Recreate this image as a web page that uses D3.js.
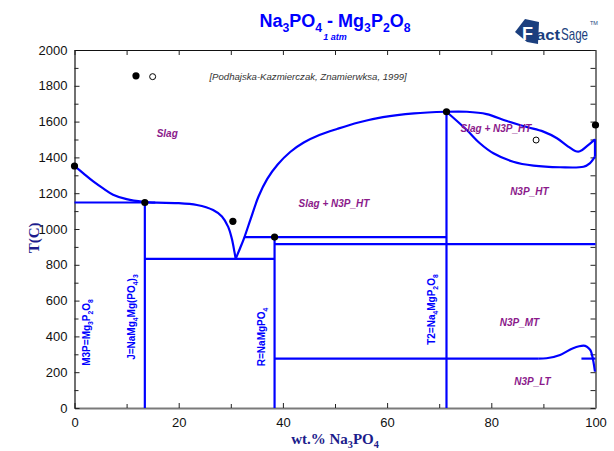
<!DOCTYPE html>
<html><head><meta charset="utf-8">
<script src="https://cdn.jsdelivr.net/npm/d3@7"></script>
<style>body{margin:0;background:#fff}</style>
</head><body>
<svg id="chart" width="614" height="451"></svg>
<script>
// Na3PO4 - Mg3P2O8 phase diagram: composition in wt.% Na3PO4, temperature in °C

// liquidus from the Mg3P2O8 side down to the eutectic
const liquidusLeft = [[0,1352],[1.7,1311],[3.6,1266],[5.5,1227],[7.4,1192],[10,1167],[13.2,1152],[15.8,1147],[19.7,1145],[23.5,1134],[26.6,1106],[28.3,1070],[29.5,1012],[30.2,945],[30.7,872],[30.94,833]];
// liquidus from the eutectic up to the Na4MgP2O8 congruent point
const liquidusRight = [[30.94,833],[31.6,880],[32.5,945],[33.8,1055],[35.3,1180],[37,1280],[39,1360],[41.4,1430],[44,1483],[47,1525],[50.5,1560],[54.5,1595],[59.2,1625],[65.2,1646],[71.4,1655]];
// liquidus and solidus bounding Slag + N3P_HT on the Na3PO4 side
const liquidusNa = [[71.4,1655],[75.3,1655],[79.1,1642],[83,1603],[86.8,1570],[90,1544],[92.6,1507],[94.5,1466],[96.1,1436],[97,1434],[98.3,1462],[99.9,1501]];
const solidusNa = [[71.4,1655],[75.3,1553],[77.8,1479],[80.4,1423],[84.2,1376],[88.1,1354],[93.2,1345],[97.7,1348],[98.9,1367],[99.9,1404]];
const solidusEdge = [[99.9,1404],[99.9,1501]];
// N3P_MT / N3P_LT boundary near pure Na3PO4
const lowTransition = [[89,276],[90.6,278],[93.2,296],[95.7,334],[97.7,348],[99,324],[99.6,259],[99.9,203]];

// isotherms: [from wt.%, to wt.%, T]
const isotherms = [[0,15.5,1148],[13.5,38.4,833],[32.7,71.4,955],[38.4,100,915],[38.4,89,276],[97.3,100,276]];
// stoichiometric compounds: [wt.% Na3PO4, upper temperature]
const compounds = [[13.5,1148],[38.4,955],[71.4,1655]];

// experimental points
const measuredFilled = [[0,1352],[13.5,1148],[38.4,955],[71.4,1655],[100,1581],[30.4,1043],[11.8,1856]];
const measuredOpen = [[88.6,1497],[15,1851]];

// region labels: [text, wt.%, T]
const regionLabels = [["Slag",17.8,1536],["Slag + N3P_HT",49.8,1145],["Slag + N3P_HT",80.9,1559],["N3P_HT",87.3,1207],["N3P_MT",85.4,477],["N3P_LT",87.9,147]];
// compound labels (subscripts marked with _): [text, wt.%, T]
const compoundLabels = [["M3P=Mg_3P_2O_8",2.3,422],["J=NaMg_4Mg(PO_4)_3",11.0,508],["R=NaMgPO_4",35.9,397],["T2=Na_4MgP_2O_8",68.6,550]];

const xTicks = [0,20,40,60,80,100];
const xMinor = [10,30,50,70,90];
const yTicks = [0,200,400,600,800,1000,1200,1400,1600,1800,2000];
const yMinor = [100,300,500,700,900,1100,1300,1500,1700,1900];

const svg = d3.select("#chart");
const plotL = 74.5, plotR = 595.5, plotT = 50, plotB = 408;
const x = d3.scaleLinear().domain([0,100]).range([plotL,plotR]);
const y = d3.scaleLinear().domain([0,2000]).range([plotB,plotT]);

const blue = "#0000ff", purple = "#8b1a8b", navy = "#1c1c8c";
const fmt = d3.format("d");

// axes
function styleAxis(g, domainColor, domainWidth){
  g.select(".domain").attr("stroke",domainColor).attr("stroke-width",domainWidth);
  g.selectAll(".tick line").attr("stroke","#222").attr("stroke-width",1);
  g.selectAll(".tick text").attr("font-family","Liberation Sans, Arial, sans-serif").attr("font-size",13).attr("fill","#111");
}
const gx = svg.append("g").attr("transform",`translate(0,${plotB})`)
  .call(d3.axisBottom(x).tickValues(xTicks).tickFormat(fmt).tickSizeInner(-5).tickSizeOuter(0).tickPadding(10));
styleAxis(gx,"#7a7a7a",2);
svg.append("g").attr("transform",`translate(0,${plotB})`)
  .call(d3.axisBottom(x).tickValues(xMinor).tickSizeInner(-4).tickSizeOuter(0).tickFormat(""))
  .call(g=>{g.select(".domain").remove(); g.selectAll("line").attr("stroke","#222");});
const gy = svg.append("g").attr("transform",`translate(${plotL},0)`)
  .call(d3.axisLeft(y).tickValues(yTicks).tickFormat(fmt).tickSizeInner(-5).tickSizeOuter(0).tickPadding(7));
styleAxis(gy,"#111",1.2);
svg.append("g").attr("transform",`translate(${plotL},0)`)
  .call(d3.axisLeft(y).tickValues(yMinor).tickSizeInner(-4).tickSizeOuter(0).tickFormat(""))
  .call(g=>{g.select(".domain").remove(); g.selectAll("line").attr("stroke","#222");});
const gt = svg.append("g").attr("transform",`translate(0,${plotT})`)
  .call(d3.axisTop(x).tickValues(xTicks.concat(xMinor)).tickSizeInner(-5).tickSizeOuter(0).tickFormat(""));
styleAxis(gt,"#111",1.2);
const gr = svg.append("g").attr("transform",`translate(${plotR},0)`)
  .call(d3.axisRight(y).tickValues(yTicks.concat(yMinor)).tickSizeInner(-5).tickSizeOuter(0).tickFormat(""));
styleAxis(gr,"#7a7a7a",2);

// phase boundaries
const plot = svg.append("g").attr("fill","none").attr("stroke",blue).attr("stroke-width",2.2).attr("stroke-linejoin","round");
const smooth = d3.line().x(d=>x(d[0])).y(d=>y(d[1])).curve(d3.curveCatmullRom.alpha(0.5));
const monotone = d3.line().x(d=>x(d[0])).y(d=>y(d[1])).curve(d3.curveMonotoneX);
const straight = d3.line().x(d=>x(d[0])).y(d=>y(d[1]));
[liquidusLeft,liquidusRight,liquidusNa,solidusNa].forEach(c=>plot.append("path").attr("d",smooth(c)));
plot.append("path").attr("d",monotone(lowTransition));
plot.append("path").attr("d",straight(solidusEdge));
isotherms.forEach(([a,b,t])=>plot.append("path").attr("d",straight([[a,t],[b,t]])));
compounds.forEach(([c,t])=>plot.append("path").attr("d",straight([[c,t],[c,0]])));

// experimental points
svg.append("g").selectAll("circle").data(measuredFilled).join("circle")
  .attr("cx",d=>x(d[0])).attr("cy",d=>y(d[1])).attr("r",3.6).attr("fill","#000");
svg.append("g").selectAll("circle").data(measuredOpen).join("circle")
  .attr("cx",d=>x(d[0])).attr("cy",d=>y(d[1])).attr("r",3).attr("fill","#fff").attr("stroke","#000").attr("stroke-width",1);

svg.append("text").attr("x",x(25.9)).attr("y",y(1851)).attr("dy","0.35em")
  .attr("font-family","Liberation Sans, Arial, sans-serif").attr("font-style","italic").attr("font-size",9.6).attr("fill","#333")
  .text("[Podhajska-Kazmierczak, Znamierwksa, 1999]");

// region labels
svg.append("g").selectAll("text").data(regionLabels).join("text")
  .attr("x",d=>x(d[1])).attr("y",d=>y(d[2])).attr("dy","0.35em").attr("text-anchor","middle")
  .attr("font-family","Liberation Sans, Arial, sans-serif").attr("font-weight","bold").attr("font-style","italic")
  .attr("font-size",10).attr("fill",purple).text(d=>d[0]);

// text with subscripts marked by "_"
function addFormula(sel, str, size){
  const parts = str.split(/(_\d)/).filter(s=>s.length);
  let sub = false;
  parts.forEach(p=>{
    if(p[0]==="_"){
      sel.append("tspan").attr("font-size",size*0.68).attr("dy",sub ? 0 : size*0.28).text(p.slice(1));
      sub = true;
    } else {
      sel.append("tspan").attr("dy",sub ? -size*0.28 : 0).text(p);
      sub = false;
    }
  });
}
compoundLabels.forEach(([t,c,temp])=>{
  const tx = svg.append("text").attr("transform",`translate(${x(c)+3.5},${y(temp)}) rotate(-90)`)
    .attr("text-anchor","middle")
    .attr("font-family","Liberation Sans, Arial, sans-serif").attr("font-weight","bold").attr("font-size",10).attr("fill",blue);
  addFormula(tx,t,10);
});

// title
const title = svg.append("text").attr("x",x(50)).attr("y",27).attr("text-anchor","middle")
  .attr("font-family","Liberation Sans, Arial, sans-serif").attr("font-weight","bold").attr("font-size",18).attr("fill",blue);
addFormula(title,"Na_3PO_4 - Mg_3P_2O_8",18);
svg.append("text").attr("x",x(50)).attr("y",40).attr("text-anchor","middle")
  .attr("font-family","Liberation Sans, Arial, sans-serif").attr("font-weight","bold").attr("font-style","italic").attr("font-size",9).attr("fill",blue)
  .text("1 atm");

// axis titles
const xt = svg.append("text").attr("x",x(50)).attr("y",444).attr("text-anchor","middle")
  .attr("font-family","Liberation Serif, Times New Roman, serif").attr("font-weight","bold").attr("font-size",15).attr("fill",navy);
addFormula(xt,"wt.% Na_3PO_4",15);
svg.append("text").attr("transform",`translate(39,${y(950)}) rotate(-90)`).attr("text-anchor","middle")
  .attr("font-family","Liberation Serif, Times New Roman, serif").attr("font-weight","bold").attr("font-size",15).attr("fill",navy)
  .text("T(C)");

// FactSage mark
const logo = svg.append("g").attr("fill","#1b3f7e");
logo.append("path").attr("d","M515,32 L525,19 L539,22 L538,44 L527,42 Z");
logo.append("text").attr("x",522).attr("y",40).attr("font-family","Liberation Sans, Arial, sans-serif").attr("font-weight","bold").attr("font-size",18).attr("fill","#fff").text("F");
logo.append("text").attr("x",536).attr("y",40).attr("font-family","Liberation Sans, Arial, sans-serif").attr("font-weight","bold").attr("font-size",15)
  .attr("textLength",24).attr("lengthAdjust","spacingAndGlyphs").text("act");
logo.append("text").attr("x",561).attr("y",40).attr("font-family","Liberation Sans, Arial, sans-serif").attr("font-size",17)
  .attr("textLength",27).attr("lengthAdjust","spacingAndGlyphs").text("Sage");
logo.append("text").attr("x",590).attr("y",25).attr("font-family","Liberation Sans, Arial, sans-serif").attr("font-size",5.5).text("TM");
</script>
</body></html>
